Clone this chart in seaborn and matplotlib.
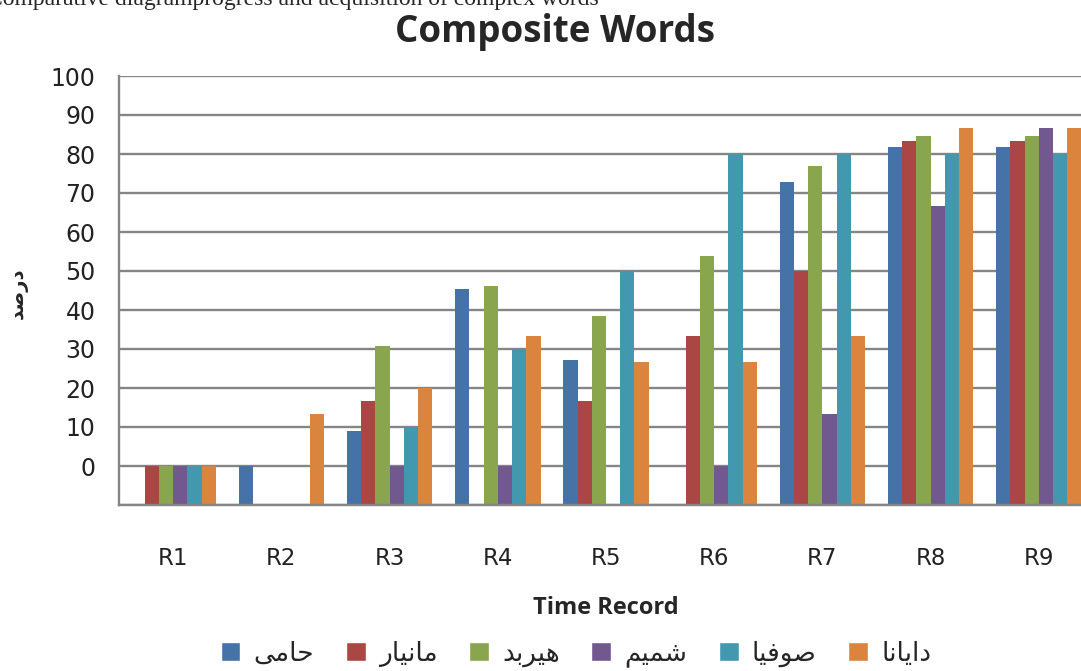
import pandas as pd
import matplotlib.pyplot as plt
import seaborn as sns
from matplotlib.patches import Patch

# data (None = no bar drawn)
records = ["R1", "R2", "R3", "R4", "R5", "R6", "R7", "R8", "R9"]
students = ["حامی", "مانیار", "هیربد", "شمیم", "صوفیا", "دایانا"]
hami = [None, 0, 9.1, 45.5, 27.3, None, 72.7, 81.8, 81.8]
maniar = [0, None, 16.7, None, 16.7, 33.3, 50, 83.3, 83.3]
hirbod = [0, None, 30.8, 46.2, 38.5, 53.8, 76.9, 84.6, 84.6]
shamim = [0, None, 0, 0, None, 0, 13.3, 66.7, 86.7]
sofia = [0, None, 10, 30, 50, 80, 80, 80, 80]
dayana = [0, 13.3, 20, 33.3, 26.7, 26.7, 33.3, 86.7, 86.7]
colors = ["#4572A7", "#AA4643", "#89A54E", "#71588F", "#4198AF", "#DB843D"]
y_ticks = list(range(-10, 101, 10))
y_labels = [""] + [str(t) for t in y_ticks[1:]]
BASE = -10  # bars start at the bottom of the value axis

# Arabic presentation forms: isolated, final, initial, medial
FORMS = {
    "ا": ("\uFE8D", "\uFE8E", None, None),
    "ب": ("\uFE8F", "\uFE90", "\uFE91", "\uFE92"),
    "ح": ("\uFEA1", "\uFEA2", "\uFEA3", "\uFEA4"),
    "د": ("\uFEA9", "\uFEAA", None, None),
    "ر": ("\uFEAD", "\uFEAE", None, None),
    "ش": ("\uFEB5", "\uFEB6", "\uFEB7", "\uFEB8"),
    "ص": ("\uFEB9", "\uFEBA", "\uFEBB", "\uFEBC"),
    "ف": ("\uFED1", "\uFED2", "\uFED3", "\uFED4"),
    "م": ("\uFEE1", "\uFEE2", "\uFEE3", "\uFEE4"),
    "ن": ("\uFEE5", "\uFEE6", "\uFEE7", "\uFEE8"),
    "ه": ("\uFEE9", "\uFEEA", "\uFEEB", "\uFEEC"),
    "و": ("\uFEED", "\uFEEE", None, None),
    "ی": ("\uFBFC", "\uFBFD", "\uFBFE", "\uFBFF"),
}


def shape(word):
    # matplotlib has no Arabic shaping, so join letters and reverse by hand
    out = []
    for i, ch in enumerate(word):
        iso, fin, ini, med = FORMS[ch]
        prev_joins = i > 0 and FORMS[word[i - 1]][2] is not None
        next_joins = i < len(word) - 1 and ini is not None
        if prev_joins and next_joins:
            out.append(med)
        elif prev_joins:
            out.append(fin)
        elif next_joins:
            out.append(ini)
        else:
            out.append(iso)
    return "".join(reversed(out))


series = [hami, maniar, hirbod, shamim, sofia, dayana]
rows = []
for name, vals in zip(students, series):
    for rec, v in zip(records, vals):
        if v is not None:
            rows.append({"record": rec, "student": name, "percent": v})
df = pd.DataFrame(rows)
df["height"] = df["percent"] - BASE

sns.set_style("white")
plt.rcParams["font.family"] = ["DejaVu Sans"]

W, H = 1081, 671
fig = plt.figure(figsize=(W / 100, H / 100), dpi=100)
ax = fig.add_axes([119 / W, 1 - 505 / H, (1093 - 119) / W, (505 - 76) / H])

sns.barplot(data=df, x="record", y="height", hue="student", order=records,
            hue_order=students, palette=colors, saturation=1, width=0.79,
            bottom=BASE, linewidth=0, legend=False, ax=ax)

grid_c = "#858585"
ax.set_ylim(-10, 100)
ax.set_yticks(y_ticks)
ax.set_yticklabels(y_labels)
ax.yaxis.grid(True, color=grid_c, linewidth=1.7)
ax.set_axisbelow(True)
ax.tick_params(axis="y", direction="inout", length=16, width=1.4, color=grid_c,
               pad=9, labelsize=17, labelcolor="#222222")
ax.set_xlim(-0.5, len(records) - 0.5)
ax.set_xticks([i - 0.5 for i in range(len(records) + 1)], minor=True)
ax.tick_params(axis="x", which="major", length=0, pad=30, labelsize=16.5,
               labelcolor="#222222")
ax.tick_params(axis="x", which="minor", direction="out", length=7, width=1.4,
               color=grid_c)
for side in ["top", "right"]:
    ax.spines[side].set_visible(False)
for side in ["left", "bottom"]:
    ax.spines[side].set_color(grid_c)
    ax.spines[side].set_linewidth(1.7)

ax.set_ylabel("")
ax.set_xlabel("Time Record", fontsize=17, fontweight="bold", family="Open Sans",
              labelpad=19)
fig.text(18 / W, 1 - 293 / H, shape("درصد"), rotation=90, ha="center",
         va="center", fontsize=14, fontweight="bold")

fig.suptitle("Composite Words", x=555 / W, y=1 - 32 / H, va="center",
             fontsize=26.5, fontweight="bold", family="Open Sans")
fig.text(-0.012, 1 - 5 / H, "Comparative diagramprogress and acquisition of complex words",
         fontsize=17, family="Liberation Serif", va="baseline")

handles = [Patch(facecolor=c) for c in colors]
fig.legend(handles, [shape(s) for s in students], loc="center",
           bbox_to_anchor=(576 / W, 1 - 654 / H), ncol=6, frameon=False,
           fontsize=19, handlelength=0.75, handleheight=0.75,
           handletextpad=0.5, columnspacing=1.2)

fig.savefig("out.png", dpi=100)
